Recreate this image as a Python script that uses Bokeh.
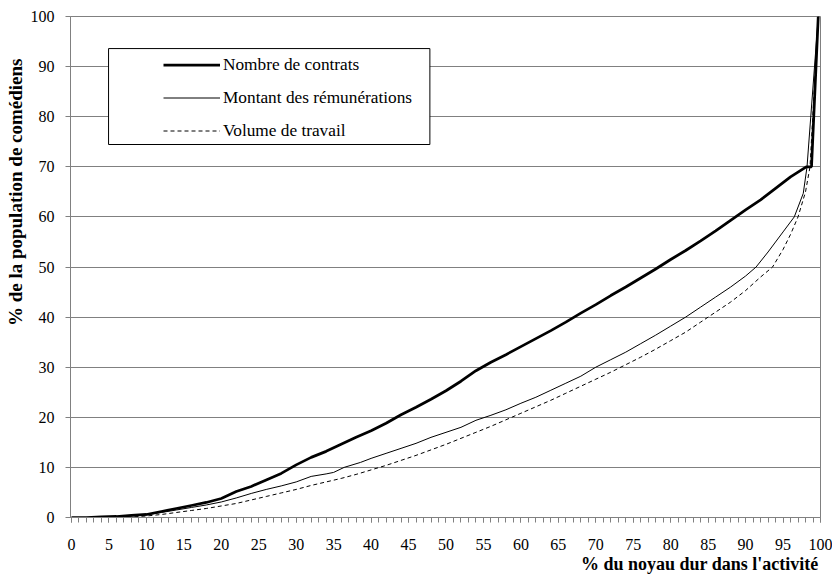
from bokeh.plotting import figure
from bokeh.models import (SingleIntervalTicker, Range1d, Legend, LegendItem,
                          BoxAnnotation, Title)
from bokeh.embed import file_html
from bokeh.resources import INLINE

# ---- data ----
x_contrats = [0, 2, 4, 6, 8, 10, 12, 14, 16, 18, 20, 22, 24, 26, 28, 30, 32, 34, 36, 38,
              40, 42, 44, 46, 48, 50, 52, 54, 56, 58, 60, 62, 64, 66, 68, 70, 72, 74, 76,
              78, 80, 82, 84, 86, 88, 90, 92, 94, 96, 98.1, 98.8, 99.7]
y_contrats = [0, 0, 0.1, 0.2, 0.4, 0.6, 1.2, 1.8, 2.4, 3.0, 3.8, 5.2, 6.2, 7.5, 8.8, 10.5,
              12.0, 13.2, 14.6, 16.0, 17.3, 18.8, 20.5, 22.0, 23.6, 25.3, 27.2, 29.3, 31.0,
              32.5, 34.1, 35.7, 37.3, 39.0, 40.8, 42.5, 44.3, 46.0, 47.8, 49.6, 51.5, 53.3,
              55.2, 57.2, 59.3, 61.4, 63.4, 65.7, 68.0, 70.0, 70.0, 100]

x_montant = [0, 4, 6, 8, 10, 12, 14, 16, 18, 20, 22, 24, 26, 28, 30, 32, 34, 35, 36.4, 38.6,
             40, 42, 44, 46, 48, 50, 52, 54, 56, 58, 60, 62, 64, 66, 68, 70, 72, 74, 76, 78,
             80, 82, 84, 86, 88, 90, 91.4, 93, 95, 96.5, 97.7, 98.2, 99.7]
y_montant = [0, 0, 0.1, 0.3, 0.5, 1.0, 1.5, 2.0, 2.5, 3.1, 3.9, 4.8, 5.6, 6.3, 7.1, 8.2,
             8.7, 9.0, 10.0, 11.0, 11.8, 12.8, 13.8, 14.8, 16.0, 17.0, 18.0, 19.4, 20.4,
             21.5, 22.8, 24.0, 25.4, 26.8, 28.2, 30.0, 31.5, 33.0, 34.7, 36.4, 38.2, 40.0,
             42.0, 44.0, 46.0, 48.2, 50.0, 53.0, 57.0, 60.0, 64.7, 70.0, 100]

x_volume = [0, 6, 8, 10, 12, 14, 16, 18, 20, 22, 24, 26, 28, 30, 32, 34, 36, 38, 40, 42, 44,
            46, 48, 50, 52, 54, 56, 58, 60, 62, 64, 66, 68, 70, 72, 74, 76, 78, 80, 82, 84,
            86, 88, 90, 92, 93.6, 95, 96, 97, 98, 98.6, 99.7]
y_volume = [0, 0, 0.1, 0.3, 0.6, 1.0, 1.4, 1.8, 2.3, 2.8, 3.5, 4.2, 4.9, 5.6, 6.4, 7.1, 7.8,
            8.6, 9.5, 10.4, 11.4, 12.4, 13.5, 14.6, 15.8, 17.0, 18.2, 19.5, 20.8, 22.1,
            23.4, 24.8, 26.2, 27.6, 29.0, 30.5, 32.0, 33.6, 35.3, 37.0, 39.0, 41.0, 43.0,
            45.3, 48.0, 50.0, 53.5, 56.5, 60.0, 65.0, 70.0, 100]

labels = ["Nombre de contrats", "Montant des rémunérations", "Volume de travail"]
x_title = "% du noyau dur dans l'activité"
y_title = "% de la population de comédiens"

FONT = "Liberation Serif"
GRAY = "#808080"

p = figure(width=832, height=576, output_backend="svg", toolbar_location=None,
           x_range=Range1d(-0.13, 100), y_range=Range1d(0, 100),
           min_border_left=70, min_border_right=12, min_border_top=16,
           min_border_bottom=59)
p.outline_line_color = GRAY
p.background_fill_color = "white"
p.border_fill_color = "white"

# axes
p.xaxis.ticker = SingleIntervalTicker(interval=5, num_minor_ticks=5)
p.yaxis.ticker = SingleIntervalTicker(interval=10, num_minor_ticks=0)
for ax in (p.xaxis, p.yaxis):
    ax.axis_line_color = GRAY
    ax.major_tick_line_color = GRAY
    ax.minor_tick_line_color = GRAY
    ax.major_tick_in = 0
    ax.minor_tick_in = 0
    ax.major_tick_out = 5
    ax.minor_tick_out = 5
    ax.major_label_text_font = FONT
    ax.major_label_text_font_size = "16px"
    ax.major_label_text_color = "black"
p.xaxis.major_label_standoff = 16
p.yaxis.major_label_standoff = 11

p.xgrid.visible = False
p.ygrid.grid_line_color = GRAY
p.ygrid.grid_line_width = 1

# curves
r1 = p.line(x_contrats, y_contrats, line_color="black", line_width=2.75)
r2 = p.line(x_montant, y_montant, line_color="black", line_width=1)
r3 = p.line(x_volume, y_volume, line_color="black", line_width=1, line_dash="4 3")

# legend frame
box = BoxAnnotation(left=4.95, right=47.85, bottom=74.45, top=93.6,
                    fill_color="white", fill_alpha=1.0,
                    line_color="black", line_width=1, line_alpha=1.0)
p.add_layout(box)

legend = Legend(items=[LegendItem(label=labels[0], renderers=[r1]),
                       LegendItem(label=labels[1], renderers=[r2]),
                       LegendItem(label=labels[2], renderers=[r3])],
                location=(93, 376), padding=0, margin=0, spacing=12,
                glyph_width=57, glyph_height=21, label_height=21,
                label_standoff=3, background_fill_alpha=0, border_line_alpha=0,
                label_text_font=FONT, label_text_font_size="17.3px",
                label_text_color="black")
p.add_layout(legend)

# axis titles
ytitle = Title(text=y_title, align="right", offset=42, vertical_align="top",
               standoff=0, text_font=FONT, text_font_size="19px",
               text_font_style="bold", text_color="black")
p.add_layout(ytitle, "left")

xtitle = Title(text=x_title, align="right", offset=2, vertical_align="top",
               standoff=2, text_font=FONT, text_font_size="18px",
               text_font_style="bold", text_color="black")
p.add_layout(xtitle, "below")

open("out.html", "w").write(file_html(p, INLINE))
